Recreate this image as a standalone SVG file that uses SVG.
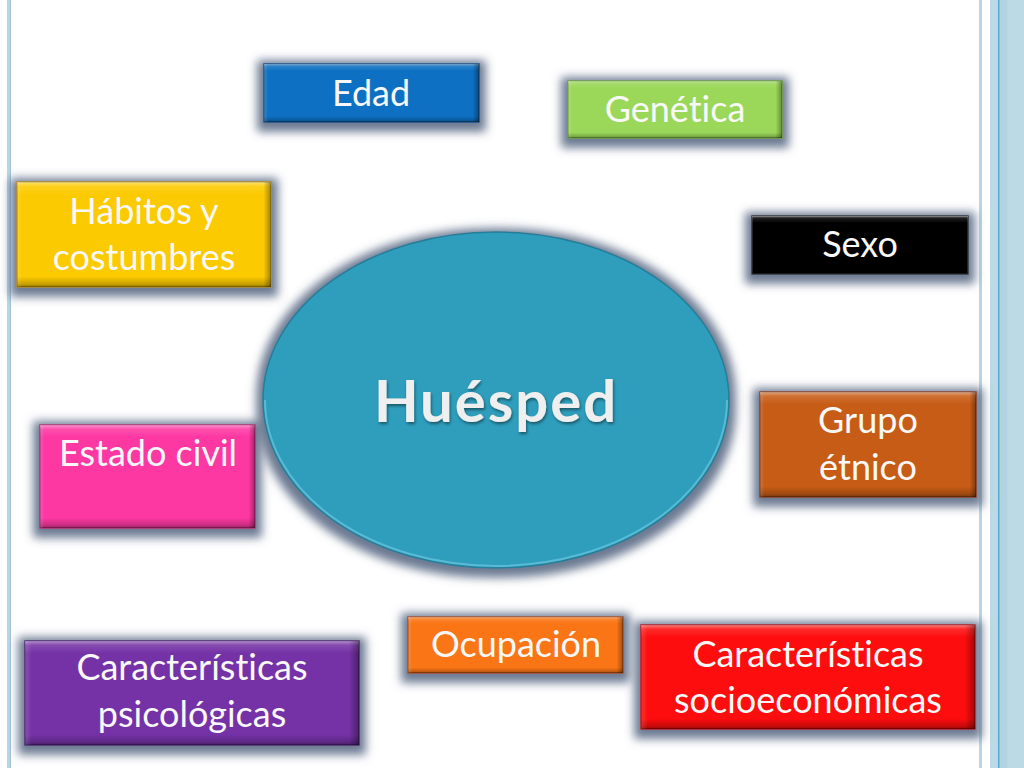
<svg xmlns="http://www.w3.org/2000/svg" width="1024" height="768" viewBox="0 0 1024 768">
<defs>
<style>
.lbl{font-family:Lato,"Open Sans","Liberation Sans",sans-serif;font-size:36px;fill:#f8f8f8;text-anchor:middle;font-variant-ligatures:none;font-feature-settings:"liga" 0}
.box{stroke-width:1.5}
.hl{fill:url(#bevV)}
.hr{fill:url(#bevH)}
.title{font-family:Lato,"Open Sans","Liberation Sans",sans-serif;font-size:58px;font-weight:bold;fill:#efefef;text-anchor:middle;letter-spacing:2px}
</style>
<linearGradient id="bevV" x1="0" y1="0" x2="0" y2="1">
<stop offset="0" stop-color="#fff" stop-opacity="0.45"/>
<stop offset="0.04" stop-color="#fff" stop-opacity="0.12"/>
<stop offset="0.12" stop-color="#fff" stop-opacity="0"/>
<stop offset="0.9" stop-color="#000" stop-opacity="0"/>
<stop offset="0.97" stop-color="#000" stop-opacity="0.2"/>
<stop offset="1" stop-color="#000" stop-opacity="0.4"/>
</linearGradient>
<linearGradient id="bevH" x1="0" y1="0" x2="1" y2="0">
<stop offset="0" stop-color="#fff" stop-opacity="0.15"/>
<stop offset="0.02" stop-color="#fff" stop-opacity="0"/>
<stop offset="0.97" stop-color="#000" stop-opacity="0"/>
<stop offset="1" stop-color="#000" stop-opacity="0.35"/>
</linearGradient>
<filter id="sh" x="-20%" y="-50%" width="140%" height="200%">
<feMorphology in="SourceAlpha" operator="dilate" radius="6" result="d"/>
<feGaussianBlur in="d" stdDeviation="5" result="b"/>
<feOffset in="b" dy="3" result="o"/>
<feFlood flood-color="#5b6b86" flood-opacity="0.9"/>
<feComposite in2="o" operator="in"/>
<feMerge><feMergeNode/><feMergeNode in="SourceGraphic"/></feMerge>
</filter>
<filter id="tsh" x="-10%" y="-30%" width="120%" height="160%">
<feGaussianBlur in="SourceAlpha" stdDeviation="1.5" result="b"/>
<feOffset in="b" dx="1" dy="2" result="o"/>
<feFlood flood-color="#000" flood-opacity="0.45"/>
<feComposite in2="o" operator="in"/>
<feMerge><feMergeNode/><feMergeNode in="SourceGraphic"/></feMerge>
</filter>
</defs>
<rect width="1024" height="768" fill="#fff"/>
<g id="frame">
<rect x="7" y="0" width="4" height="768" fill="#b9d6e4"/>
<rect x="10" y="0" width="1" height="768" fill="#9cc4d6"/>
<rect x="979" y="0" width="3" height="768" fill="#b9d6e4"/>
<rect x="990" y="0" width="34" height="768" fill="#bcd9e6"/>
<rect x="998" y="0" width="1.5" height="768" fill="#5aa6c6"/>
<rect x="1000" y="0" width="7" height="768" fill="#b2d3e2"/>
</g>
<g id="connectors"/>
<g id="huesped">
<ellipse cx="496" cy="400" rx="233" ry="168" fill="#2f9ebc" stroke="#257e98" stroke-width="1.5" filter="url(#sh)"/>
<path d="M 265 400 A 231 166 0 0 0 727 400" fill="none" stroke="#74cde4" stroke-width="2" opacity="0.6"/>
<text class="title" x="496" y="422" filter="url(#tsh)">Huésped</text>
</g>
<g id="edad">
<rect class="box" x="264" y="64" width="215" height="58" fill="#0a70c2" stroke="#07508c" filter="url(#sh)"/>
<rect class="hl" x="264" y="64" width="215" height="58"/><rect class="hr" x="264" y="64" width="215" height="58"/>
<text class="lbl" x="371" y="106">Edad</text>
</g>
<g id="genetica">
<rect class="box" x="568" y="81" width="214" height="57" fill="#9bd85a" stroke="#6f9e3c" filter="url(#sh)"/>
<rect class="hl" x="568" y="81" width="214" height="57"/><rect class="hr" x="568" y="81" width="214" height="57"/>
<text class="lbl" x="675" y="122">Genética</text>
</g>
<g id="habitos">
<rect class="box" x="17" y="182" width="254" height="105" fill="#fcca00" stroke="#b08d00" filter="url(#sh)"/>
<rect class="hl" x="17" y="182" width="254" height="105"/><rect class="hr" x="17" y="182" width="254" height="105"/>
<text class="lbl" x="144" y="224">Hábitos y</text>
<text class="lbl" x="144" y="270">costumbres</text>
</g>
<g id="sexo">
<rect class="box" x="752" y="216" width="216" height="58" fill="#050505" stroke="#333" filter="url(#sh)"/>
<rect class="hl" x="752" y="216" width="216" height="58"/>
<text class="lbl" x="860" y="257">Sexo</text>
</g>
<g id="estado">
<rect class="box" x="40" y="425" width="215" height="103" fill="#fd37a3" stroke="#b72575" filter="url(#sh)"/>
<rect class="hl" x="40" y="425" width="215" height="103"/><rect class="hr" x="40" y="425" width="215" height="103"/>
<text class="lbl" x="148" y="466">Estado civil</text>
</g>
<g id="grupo">
<rect class="box" x="760" y="392" width="216" height="105" fill="#c75b17" stroke="#8a3d0c" filter="url(#sh)"/>
<rect class="hl" x="760" y="392" width="216" height="105"/><rect class="hr" x="760" y="392" width="216" height="105"/>
<text class="lbl" x="868" y="433">Grupo</text>
<text class="lbl" x="868" y="480">étnico</text>
</g>
<g id="psicologicas">
<rect class="box" x="25" y="641" width="334" height="104" fill="#7433a6" stroke="#4f2174" filter="url(#sh)"/>
<rect class="hl" x="25" y="641" width="334" height="104"/><rect class="hr" x="25" y="641" width="334" height="104"/>
<text class="lbl" x="192" y="680">Características</text>
<text class="lbl" x="192" y="727">psicológicas</text>
</g>
<g id="ocupacion">
<rect class="box" x="408" y="617" width="215" height="56" fill="#fa7414" stroke="#aa4e0c" filter="url(#sh)"/>
<rect class="hl" x="408" y="617" width="215" height="56"/><rect class="hr" x="408" y="617" width="215" height="56"/>
<text class="lbl" x="516" y="657">Ocupación</text>
</g>
<g id="socioeconomicas">
<rect class="box" x="641" y="625" width="334" height="104" fill="#fd0a0a" stroke="#b00000" filter="url(#sh)"/>
<rect class="hl" x="641" y="625" width="334" height="104"/><rect class="hr" x="641" y="625" width="334" height="104"/>
<text class="lbl" x="808" y="667">Características</text>
<text class="lbl" x="808" y="713">socioeconómicas</text>
</g>
</svg>
